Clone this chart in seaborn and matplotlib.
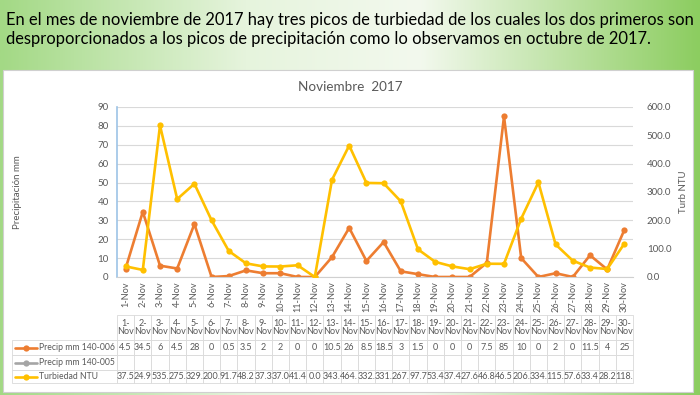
import matplotlib.pyplot as plt
import seaborn as sns
import pandas as pd
import numpy as np
from matplotlib.colors import LinearSegmentedColormap
from matplotlib.lines import Line2D
from matplotlib.patches import Rectangle
from matplotlib.ticker import StrMethodFormatter

# Data (November 2017)
days = ["1-Nov", "2-Nov", "3-Nov", "4-Nov", "5-Nov", "6-Nov", "7-Nov", "8-Nov",
        "9-Nov", "10-Nov", "11-Nov", "12-Nov", "13-Nov", "14-Nov", "15-Nov",
        "16-Nov", "17-Nov", "18-Nov", "19-Nov", "20-Nov", "21-Nov", "22-Nov",
        "23-Nov", "24-Nov", "25-Nov", "26-Nov", "27-Nov", "28-Nov", "29-Nov", "30-Nov"]
precip_006 = [4.5, 34.5, 6, 4.5, 28, 0, 0.5, 3.5, 2, 2, 0, 0, 10.5, 26, 8.5,
              18.5, 3, 1.5, 0, 0, 0, 7.5, 85, 10, 0, 2, 0, 11.5, 4, 25]
precip_005 = [None] * len(days)  # series is empty in the source
turbiedad = [37.5, 24.9, 535.0, 275.0, 329.0, 200.0, 91.7, 48.2, 37.3, 37.0,
             41.4, 0.0, 343.0, 464.0, 332.0, 331.0, 267.0, 97.7, 53.4, 37.4,
             27.6, 46.8, 46.5, 206.0, 334.0, 115.0, 57.6, 33.4, 28.2, 118.0]
series_names = ["Precip mm 140-006", "Precip mm 140-005", "Turbiedad NTU"]
series_colors = ["#ED7D31", "#A5A5A5", "#FFC000"]

heading = ["En el mes de noviembre de 2017 hay tres picos de turbiedad de los cuales los dos primeros son",
           "desproporcionados a los picos de precipitación como lo observamos en octubre de 2017."]

df = pd.DataFrame({"dia": days, "precip": precip_006, "turb": turbiedad})
df["pos"] = np.arange(len(df))

sns.set_theme(style="white")
plt.rcParams['font.family'] = ['Lato', 'DejaVu Sans']
grey = "#595959"

fig = plt.figure(figsize=(7, 3.95), dpi=100)

# slide background: green band + white chart area
bg = fig.add_axes([0, 0, 1, 1], zorder=-10)
slide = LinearSegmentedColormap.from_list(
    "slide", [(0, "#a3d985"), (0.35, "#e6f4dd"), (0.6, "#f3f9ee"), (1, "#8ccd60")])
bg.imshow(np.linspace(0, 1, 256)[None, :], aspect="auto", cmap=slide,
          extent=[0, 1, 0, 1])
bg.add_patch(Rectangle((0.004, 0.008), 0.986, 0.815, facecolor="white",
                       edgecolor="#d0d0d0", lw=0.8))
bg.set_xlim(0, 1)
bg.set_ylim(0, 1)
bg.axis("off")

fig.text(0.008, 1 - 24.5 / 395, heading[0], fontsize=11.9, color="black", va="baseline")
fig.text(0.008, 1 - 44 / 395, heading[1], fontsize=11.9, color="black", va="baseline")
fig.text(0.5, 1 - 87 / 395, "Noviembre  2017", ha="center", va="center",
         fontsize=9.7, color=grey)

# plot area
ax = fig.add_axes([117 / 700, 1 - 277 / 395, 516 / 700, 170 / 395])
sns.lineplot(data=df, x="pos", y="precip", ax=ax, color=series_colors[0],
             marker="o", markersize=4.5, markeredgewidth=0, linewidth=1.9)
ax2 = ax.twinx()
sns.lineplot(data=df, x="pos", y="turb", ax=ax2, color=series_colors[2],
             marker="o", markersize=4.5, markeredgewidth=0, linewidth=1.9)

ax.set_xlim(-0.5, len(days) - 0.5)
ax.set_ylim(0, 90)
ax.set_yticks(range(0, 91, 10))
ax2.set_ylim(0, 600)
ax2.set_yticks(range(0, 601, 100))
ax2.yaxis.set_major_formatter(StrMethodFormatter("{x:.1f}"))
ax.set_xticks(df["pos"])
ax.set_xticklabels(days, rotation=90)

ax.yaxis.grid(True, color="#d9d9d9", lw=0.8)
ax.set_axisbelow(True)
for s in ["top", "right"]:
    ax.spines[s].set_visible(False)
ax.spines["left"].set_color("#9dc3e6")
ax.spines["left"].set_linewidth(1.2)
ax.spines["bottom"].set_color("#d0d0d0")
ax.spines["bottom"].set_linewidth(0.8)
for s in ax2.spines.values():
    s.set_visible(False)

ax.tick_params(axis="y", length=0, pad=6, labelsize=7, labelcolor=grey)
ax.tick_params(axis="x", length=0, pad=3, labelsize=6.6, labelcolor=grey)
ax2.tick_params(axis="y", length=0, pad=10, labelsize=7, labelcolor=grey)

ax.set_xlabel("")
ax.set_ylabel("Precipitación mm", fontsize=7, color=grey)
ax.yaxis.set_label_coords(-95 / 516, 0.5)
ax2.set_ylabel("Turb NTU", fontsize=7, color=grey)
ax2.yaxis.set_label_coords((679 - 117) / 516, 0.5)

# data table under the chart
header = [""] + [d.replace("-", "-\n") for d in days]
row_precip = [series_names[0]] + [f"{v:g}" for v in precip_006]
row_empty = [series_names[1]] + ["" if v is None else f"{v:g}" for v in precip_005]
row_turb = [series_names[2]] + [f"{v:.1f}"[:4] for v in turbiedad]
label_w = 105
tbl = ax.table(cellText=[header, row_precip, row_empty, row_turb],
               cellLoc="center",
               bbox=[-label_w / 516, -(383 - 277) / 170, 1 + label_w / 516, (383 - 315) / 170])
tbl.auto_set_font_size(False)
tbl.set_fontsize(6.5)
row_h = [25, 15, 15, 13]
for (r, c), cell in tbl.get_celld().items():
    cell.set_width(label_w if c == 0 else 516 / len(days))
    cell.set_height(row_h[r])
    cell.set_edgecolor("#d9d9d9")
    cell.set_linewidth(0.6)
    cell.get_text().set_color(grey)
    cell.get_text().set_linespacing(1.0)
    if c == 0:
        cell.get_text().set_ha("left")
        cell.get_text().set_fontsize(6.2)
        cell.PAD = 0.26
        if r == 0:
            cell.set_linewidth(0)

# legend keys in the table label column
key_y = [347.5, 362.5, 376.5]
for ky, col in zip(key_y, series_colors):
    fy = 1 - ky / 395
    fig.add_artist(Line2D([15 / 700, 37 / 700], [fy, fy], color=col, lw=1.9))
    fig.add_artist(Line2D([26 / 700], [fy], color=col, marker="o", markersize=4.5,
                          markeredgewidth=0))

fig.savefig("out.png", dpi=100)
